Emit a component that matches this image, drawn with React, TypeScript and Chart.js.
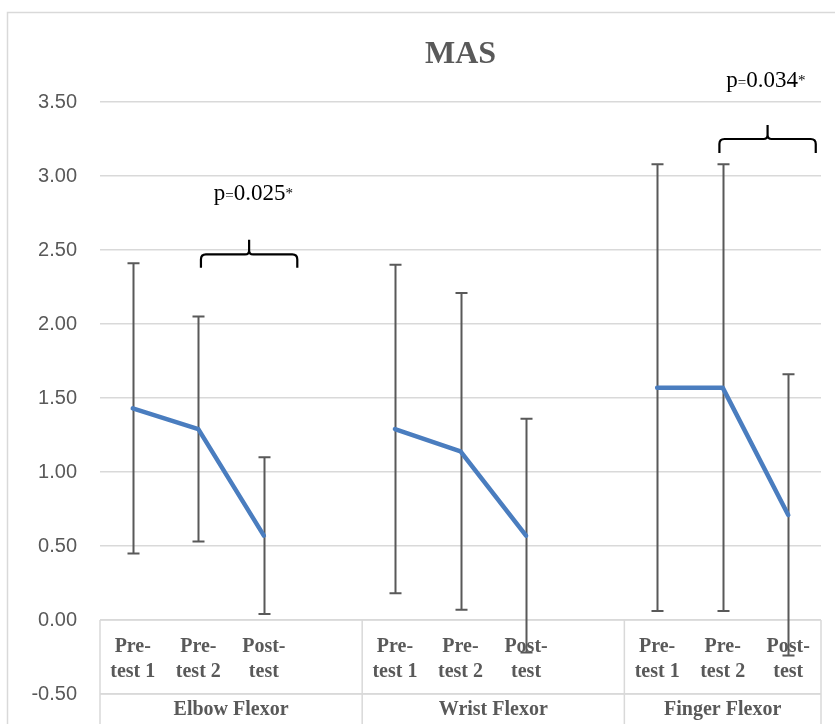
import React, { useEffect, useRef } from "react";
import { Chart, registerables } from "chart.js";

Chart.register(...registerables);

// ---- data ----
const chartTitle = "MAS";
const groupNames = ["Elbow Flexor", "Wrist Flexor", "Finger Flexor"];
const phaseLabels = [
  ["Pre-", "test 1"],
  ["Pre-", "test 2"],
  ["Post-", "test"],
];
// 11 category slots: 3 phases per group, one empty slot between groups
const categories = [
  "Pre-test 1", "Pre-test 2", "Post-test", "",
  "Pre-test 1", "Pre-test 2", "Post-test", "",
  "Pre-test 1", "Pre-test 2", "Post-test",
];
const meanValues = [1.43, 1.29, 0.57, null, 1.29, 1.14, 0.57, null, 1.57, 1.57, 0.71];
const sdValues = [0.98, 0.76, 0.53, null, 1.11, 1.07, 0.79, null, 1.51, 1.51, 0.95];
const yMin = -0.5;
const yMax = 3.5;
const yStep = 0.5;

// significance annotations (category index / value units)
const pValueLabels = ["0.025", "0.034"];
const bracketFrom = [1.04, 8.95];
const bracketTo = [2.51, 10.42];
const bracketEnd = [2.38, 3.155];
const bracketLine = [2.47, 3.25];
const bracketTip = [2.57, 3.345];
const pLabelX = [1.84, 9.66];
const pLabelY = [2.838, 3.6];

const GRAY = "#595959";
const GRID = "#d9d9d9";
const SERIF = "'Liberation Serif', 'Times New Roman', serif";

const decorPlugin = {
  id: "decor",
  beforeDraw(chart: any) {
    const ctx = chart.ctx;
    ctx.save();
    ctx.fillStyle = "#ffffff";
    ctx.fillRect(0, 0, chart.width, chart.height);
    // outer chart border (left & top visible)
    ctx.strokeStyle = GRID;
    ctx.lineWidth = 1.5;
    ctx.beginPath();
    ctx.moveTo(7.5, chart.height);
    ctx.lineTo(7.5, 12.5);
    ctx.lineTo(chart.width, 12.5);
    ctx.stroke();
    // title
    ctx.fillStyle = GRAY;
    ctx.font = `bold 32px ${SERIF}`;
    ctx.textAlign = "center";
    ctx.textBaseline = "alphabetic";
    const ca = chart.chartArea;
    ctx.fillText(chartTitle, (ca.left + ca.right) / 2, 63);
    ctx.restore();
  },
  beforeDatasetsDraw(chart: any) {
    const ctx = chart.ctx;
    const xs = chart.scales.x;
    const ys = chart.scales.y;
    const ca = chart.chartArea;
    const y0 = ys.getPixelForValue(0);
    const yLow = ys.getPixelForValue(yMin);
    ctx.save();
    // category table lines
    ctx.strokeStyle = GRID;
    ctx.lineWidth = 1.5;
    ctx.beginPath();
    ctx.moveTo(ca.left, y0);
    ctx.lineTo(ca.right, y0);
    ctx.moveTo(ca.left, yLow);
    ctx.lineTo(ca.right, yLow);
    const bounds = [ca.left, xs.getPixelForValue(3.5), xs.getPixelForValue(7.5), ca.right];
    bounds.forEach((bx) => {
      ctx.moveTo(bx, y0);
      ctx.lineTo(bx, chart.height);
    });
    ctx.stroke();
    // phase labels
    ctx.fillStyle = GRAY;
    ctx.font = `bold 20px ${SERIF}`;
    ctx.textAlign = "center";
    ctx.textBaseline = "alphabetic";
    categories.forEach((c, i) => {
      if (!c) return;
      const lines = phaseLabels[i % 4];
      const px = xs.getPixelForValue(i);
      ctx.fillText(lines[0], px, y0 + 32);
      ctx.fillText(lines[1], px, y0 + 57);
    });
    // group labels
    groupNames.forEach((g, gi) => {
      const cx = (bounds[gi] + bounds[gi + 1]) / 2;
      ctx.fillText(g, cx, yLow + 21);
    });
    // error bars
    ctx.strokeStyle = GRAY;
    ctx.lineWidth = 2;
    ctx.beginPath();
    meanValues.forEach((m, i) => {
      const sd = sdValues[i];
      if (m == null || sd == null) return;
      const px = Math.round(xs.getPixelForValue(i)) + 0.5;
      const top = ys.getPixelForValue(m + sd);
      const bot = ys.getPixelForValue(m - sd);
      ctx.moveTo(px, top);
      ctx.lineTo(px, bot);
      ctx.moveTo(px - 6, top);
      ctx.lineTo(px + 6, top);
      ctx.moveTo(px - 6, bot);
      ctx.lineTo(px + 6, bot);
    });
    ctx.stroke();
    ctx.restore();
  },
  afterDraw(chart: any) {
    const ctx = chart.ctx;
    const xs = chart.scales.x;
    const ys = chart.scales.y;
    ctx.save();
    ctx.strokeStyle = "#000000";
    ctx.lineWidth = 2.2;
    ctx.lineCap = "butt";
    pValueLabels.forEach((p, k) => {
      const x1 = xs.getPixelForValue(bracketFrom[k]);
      const x2 = xs.getPixelForValue(bracketTo[k]);
      const xm = (x1 + x2) / 2;
      const yE = ys.getPixelForValue(bracketEnd[k]);
      const yH = ys.getPixelForValue(bracketLine[k]);
      const yT = ys.getPixelForValue(bracketTip[k]);
      ctx.beginPath();
      ctx.moveTo(x1, yE);
      ctx.lineTo(x1, yH + 5);
      ctx.quadraticCurveTo(x1, yH, x1 + 5, yH);
      ctx.lineTo(xm - 4, yH);
      ctx.quadraticCurveTo(xm, yH, xm, yH - 4);
      ctx.lineTo(xm, yT);
      ctx.moveTo(xm, yH - 4);
      ctx.quadraticCurveTo(xm, yH, xm + 4, yH);
      ctx.lineTo(x2 - 5, yH);
      ctx.quadraticCurveTo(x2, yH, x2, yH + 5);
      ctx.lineTo(x2, yE);
      ctx.stroke();

      // label p=0.0xx*
      const parts = [
        { t: "p", f: `23px ${SERIF}` },
        { t: "=", f: `15px ${SERIF}` },
        { t: p, f: `23px ${SERIF}` },
        { t: "*", f: `15px ${SERIF}` },
      ];
      let total = 0;
      const widths = parts.map((pt) => {
        ctx.font = pt.f;
        const w = ctx.measureText(pt.t).width;
        total += w;
        return w;
      });
      const cx = xs.getPixelForValue(pLabelX[k]);
      const by = ys.getPixelForValue(pLabelY[k]);
      let x = cx - total / 2;
      ctx.fillStyle = "#000000";
      ctx.textAlign = "left";
      ctx.textBaseline = "alphabetic";
      parts.forEach((pt, i) => {
        ctx.font = pt.f;
        ctx.fillText(pt.t, x, pt.t === "*" ? by - 2 : by);
        x += widths[i];
      });
    });
    ctx.restore();
  },
};

export default function App() {
  const ref = useRef<HTMLCanvasElement | null>(null);
  useEffect(() => {
    if (!ref.current) return;
    const chart = new Chart(ref.current, {
      type: "line",
      data: {
        labels: categories,
        datasets: [
          {
            label: chartTitle,
            data: meanValues,
            borderColor: "#4a7dbf",
            backgroundColor: "#4a7dbf",
            borderWidth: 4.5,
            pointRadius: 0,
            pointHoverRadius: 0,
            spanGaps: false,
            tension: 0,
            borderJoinStyle: "round",
            borderCapStyle: "round",
          },
        ],
      },
      options: {
        animation: false,
        responsive: false,
        maintainAspectRatio: false,
        layout: { padding: { top: 102, right: 14, bottom: 30, left: 0 } },
        plugins: {
          legend: { display: false },
          title: { display: false },
          tooltip: { enabled: false },
        },
        scales: {
          x: {
            type: "category",
            display: false,
            offset: true,
          },
          y: {
            min: yMin,
            max: yMax,
            afterFit(scale: any) {
              scale.width = 100;
              scale.paddingTop = 0;
              scale.paddingBottom = 0;
            },
            border: { display: false },
            grid: { color: GRID, lineWidth: 1.5, drawTicks: false },
            ticks: {
              stepSize: yStep,
              padding: 23,
              color: GRAY,
              font: { family: "'Liberation Sans', Arial, sans-serif", size: 20 },
              callback: (v: any) => Number(v).toFixed(2),
            },
          },
        },
      },
      plugins: [decorPlugin],
    });
    return () => chart.destroy();
  }, []);
  return (
    <div style={{ position: "fixed", left: 0, top: 0, width: 835, height: 724 }}>
      <canvas ref={ref} width={835} height={724} style={{ width: 835, height: 724 }} />
    </div>
  );
}
